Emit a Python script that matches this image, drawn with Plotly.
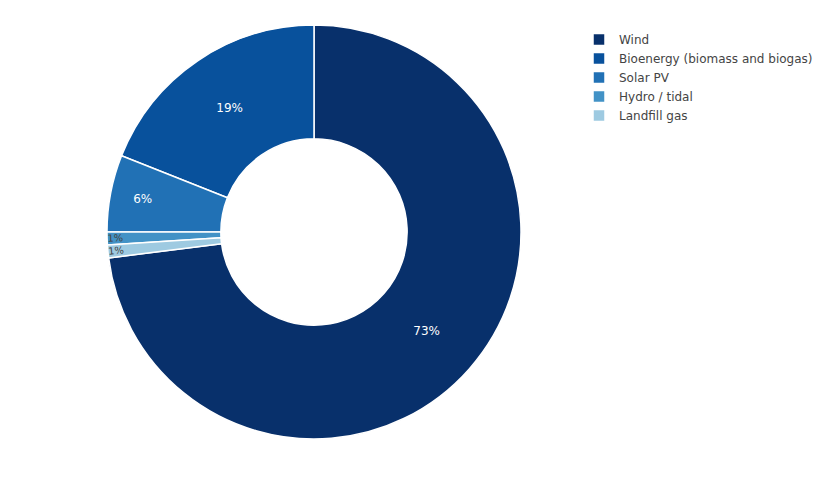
import plotly.graph_objects as go

labels = ["Wind", "Bioenergy (biomass and biogas)", "Solar PV", "Hydro / tidal", "Landfill gas"]
values = [73.0, 19.0, 6.0, 1.0, 1.0]
colors = ["#08306b", "#08519c", "#2171b5", "#4292c6", "#9ecae1"]

fig = go.Figure(go.Pie(
    labels=labels,
    values=values,
    hole=0.45,
    sort=False,
    direction="counterclockwise",
    rotation=0,
    marker=dict(colors=colors, line=dict(color="white", width=1.5)),
    texttemplate="%{percent:.0%}",
    textposition="inside",
    domain=dict(x=[0.1, 0.6443], y=[0, 1]),
))

fig.update_layout(
    width=830, height=480,
    margin=dict(l=20, r=20, t=25, b=41),
    font=dict(family="Verdana, DejaVu Sans, sans-serif", size=12, color="#444"),
    paper_bgcolor="white",
    legend=dict(x=0.7076, xanchor="left", y=1, yanchor="top"),
)

fig.write_html("out.html")
